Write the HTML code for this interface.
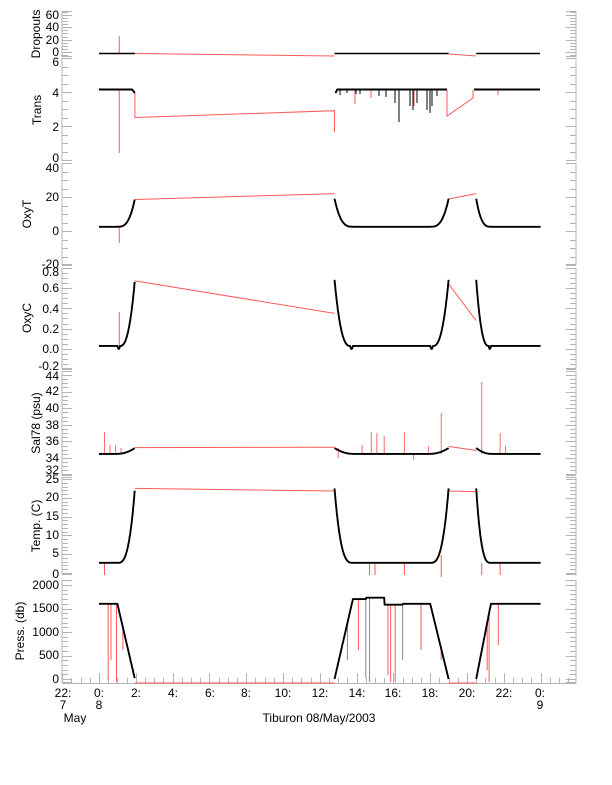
<!DOCTYPE html>
<html><head><meta charset="utf-8"><style>
html,body{margin:0;padding:0;background:#fff;}
svg{display:block;}
text{font-family:"Liberation Sans",sans-serif;font-size:12px;fill:#000;}
</style></head><body>
<svg id="s" width="612" height="785" viewBox="0 0 612 785" xmlns="http://www.w3.org/2000/svg">
<g id="ax" stroke="#b4b4b4" stroke-width="1" fill="none"></g>
<g id="red" stroke="#ff5a5a" stroke-width="1" fill="none"></g>
<g id="blk" stroke="#000" stroke-width="1.9" fill="none" stroke-linejoin="round"></g>
<g text-anchor="end">
<text x="59" y="19">60</text><text x="59" y="31">40</text><text x="59" y="44">20</text><text x="59" y="56">0</text>
<text x="59" y="66">6</text><text x="59" y="97">4</text><text x="59" y="131">2</text><text x="59" y="162">0</text>
<text x="59" y="172">40</text><text x="59" y="201">20</text><text x="59" y="235">0</text><text x="59" y="268">-20</text>
<text x="59" y="276">0.8</text><text x="59" y="292">0.6</text><text x="59" y="313">0.4</text><text x="59" y="333">0.2</text><text x="59" y="353">0.0</text><text x="59" y="370">-0.2</text>
<text x="59" y="380">44</text><text x="59" y="395">42</text><text x="59" y="412">40</text><text x="59" y="429">38</text><text x="59" y="445">36</text><text x="59" y="462">34</text><text x="59" y="474">32</text>
<text x="59" y="483">25</text><text x="59" y="501">20</text><text x="59" y="520">15</text><text x="59" y="539">10</text><text x="59" y="557">5</text><text x="59" y="578">0</text>
<text x="59" y="589">2000</text><text x="59" y="612">1500</text><text x="59" y="636">1000</text><text x="59" y="659">500</text><text x="59" y="683">0</text>
</g>
<g text-anchor="middle">
<text transform="translate(40,34) rotate(-90)">Dropouts</text>
<text transform="translate(41,110) rotate(-90)">Trans</text>
<text transform="translate(31,214) rotate(-90)">OxyT</text>
<text transform="translate(31,318) rotate(-90)">OxyC</text>
<text transform="translate(40,423) rotate(-90)">Sal78 (psu)</text>
<text transform="translate(40,526) rotate(-90)">Temp. (C)</text>
<text transform="translate(24,631) rotate(-90)">Press. (db)</text>
</g>
<g text-anchor="middle">
<text x="63" y="697">22:</text><text x="63" y="709">7</text>
<text x="99" y="697">0:</text><text x="99" y="709">8</text>
<text x="136" y="697">2:</text><text x="173" y="697">4:</text><text x="210" y="697">6:</text><text x="246" y="697">8:</text>
<text x="283" y="697">10:</text><text x="320" y="697">12:</text><text x="357" y="697">14:</text><text x="393" y="697">16:</text>
<text x="430" y="697">18:</text><text x="467" y="697">20:</text><text x="504" y="697">22:</text>
<text x="540" y="697">0:</text><text x="540" y="709">9</text>
<text x="75" y="722">May</text>
<text x="319" y="722">Tiburon 08/May/2003</text>
</g>
</svg>
<script>
var ax=document.getElementById('ax'),red=document.getElementById('red'),blk=document.getElementById('blk');
function P(g,d,extra){var p=document.createElementNS('http://www.w3.org/2000/svg','path');p.setAttribute('d',d);if(extra)for(var k in extra)p.setAttribute(k,extra[k]);g.appendChild(p);}
var L=62,R=576;
var panels=[
 {t:11,b:57,f:function(v){return 52-0.617*v},lo:-8,hi:66,mj:20,mn:5},
 {t:58,b:161,f:function(v){return 160-17*v},lo:0,hi:6,mj:2,mn:0.5},
 {t:163,b:265,f:function(v){return 231-1.7*v},lo:-20,hi:40,mj:20,mn:5},
 {t:268,b:369,f:function(v){return 349-101.7*v},lo:-0.2,hi:0.8,mj:0.2,mn:0.05},
 {t:371,b:475,f:function(v){return 458-8.3*(v-34)},lo:32,hi:44.4,mj:2,mn:0.5},
 {t:477,b:575,f:function(v){return 573-3.76*v},lo:0,hi:25.5,mj:5,mn:1},
 {t:580,b:683,f:function(v){return 679-0.047*v},lo:-85,hi:2100,mj:500,mn:100}];
var d='';
panels.forEach(function(p){
 d+='M'+L+' '+p.t+'V'+p.b+'M'+R+' '+p.t+'V'+p.b;
 var s=Math.ceil(p.lo/p.mn-1e-6);
 for(var i=s;i*p.mn<=p.hi+1e-6;i++){var v=i*p.mn,y=p.f(v);if(y<p.t-0.5||y>p.b+0.5)continue;
  var maj=Math.abs(v/p.mj-Math.round(v/p.mj))<1e-6;var len=maj?10:6;y=Math.round(y)+0.5;
  d+='M'+L+' '+y+'h'+len+'M'+R+' '+y+'h'+(-len);}
 d+='M'+L+' '+(p.t+0.5)+'h10M'+R+' '+(p.t+0.5)+'h-10M'+L+' '+(p.b-0.5)+'h10M'+R+' '+(p.b-0.5)+'h-10';
});
d+='M'+L+' 683.5H'+R;
for(var t=-2;t<=27.5;t+=0.5){var x=Math.round(99+t*18.4)+0.5;if(x<L||x>R)continue;var maj=Math.abs(t/2-Math.round(t/2))<1e-6;d+='M'+x+' 683V'+(683-(maj?10:5));}
P(ax,d);
function X(h){return 99+h*18.4;}
function seg(g,pts){return 'M'+pts.map(function(q){return q[0].toFixed(1)+' '+q[1].toFixed(1)}).join('L');}
function prof(h){
 if(h<1)return 0; if(h<1.95)return (h-1)/0.95; if(h<12.8)return 1;
 if(h<13.8)return 1-(h-12.8); if(h<18)return 0; if(h<19)return h-18; if(h<20.5)return 1;
 if(h<21.3)return 1-(h-20.5)/0.8; return 0;}
var blackRanges=[[0,1.95],[12.8,19],[20.5,24]];
function curve(f,panel){
 var s='';blackRanges.forEach(function(r){var pts=[];for(var h=r[0];h<=r[1]+1e-6;h+=0.02){pts.push([X(h),panel.f(f(h))]);}s+=seg(blk,pts);});
 P(blk,s);
}
var pp=panels[6];
function pres(h){var fr=prof(h);var deep=h<5?1600:(h<19?(h<15.5?1700+(h>14.5?30:0):(h<16.5?1580:1600)):1600);return deep*(1-fr);}
curve(pres,pp);
P(red,'M'+X(1.95)+' 683H'+X(12.8)+'M'+X(19)+' 683H'+X(20.5));
var spikes=[[0.5,680],[0.65,660],[0.95,682],[1.3,650],[13.3,640],[13.5,660],[14.1,650],[14.7,682],[15.7,675],[15.85,682],[16.1,682],[17.5,650],[18.6,660],[21.1,670],[21.2,682],[21.7,645]];
var sd='';spikes.forEach(function(s){var y0=pp.f(pres(s[0]));sd+='M'+X(s[0]).toFixed(1)+' '+y0.toFixed(1)+'V'+s[1];});P(red,sd);
P(ax,'M'+X(14.5)+' 598V678M'+X(16.5)+' 605V660',{stroke:'#888'});
var tp=panels[5];
function temp(h){var fr=prof(h);return 2.7+19.8*Math.pow(fr,3);}
curve(temp,tp);
P(red,'M'+X(1.95)+' '+tp.f(22.5)+'L'+X(12.8)+' '+tp.f(21.8)+'M'+X(19)+' '+tp.f(21.8)+'L'+X(20.5)+' '+tp.f(21.6));
P(red,'M'+X(0.3)+' 563V575M'+X(14.7)+' 563V575M'+X(15)+' 563V575M'+X(16.6)+' 563V575M'+X(18.6)+' 555V577M'+X(20.8)+' 563V575M'+X(21.8)+' 563V575');
var sp=panels[4];
function sal(h){var fr=prof(h);return 34.5+0.7*Math.pow(fr,2);}
curve(sal,sp);
P(red,'M'+X(1.95)+' '+sp.f(35.25)+'L'+X(12.8)+' '+sp.f(35.3)+'M'+X(19)+' '+sp.f(35.4)+'L'+X(20.5)+' '+sp.f(34.9));
P(red,'M'+X(0.3)+' 454V432M'+X(0.6)+' 454V445M'+X(0.9)+' 454V445M'+X(1.2)+' 454V448M'+X(14.3)+' 454V445M'+X(14.8)+' 454V432M'+X(15.1)+' 454V433M'+X(15.5)+' 454V436M'+X(16.6)+' 454V432M'+X(17.1)+' 454V460M'+X(17.9)+' 454V446M'+X(18.6)+' 454V413M'+X(20.8)+' 454V382M'+X(21.8)+' 454V433M'+X(22.1)+' 454V446M'+X(13)+' 448V458',{opacity:0.9});
var cp=panels[3];
function oxc(h){var fr=prof(h);if(fr<0.15)return 0.03-0.03*Math.sin(Math.PI*fr/0.15);return 0.03+0.65*Math.pow((fr-0.15)/0.85,2.5);}
curve(oxc,cp);
P(red,'M'+X(1.95)+' '+cp.f(0.67)+'L'+X(12.8)+' '+cp.f(0.35)+'M'+X(19)+' '+cp.f(0.64)+'L'+X(20.5)+' '+cp.f(0.28));
P(red,'M'+X(1.1)+' 346V312');
var op=panels[2];
function oxt(h){var fr=prof(h);return 2.5+16.5*Math.pow(fr,3);}
curve(oxt,op);
P(red,'M'+X(1.95)+' '+op.f(18.5)+'L'+X(12.8)+' '+op.f(22)+'M'+X(19)+' '+op.f(18.8)+'L'+X(20.5)+' '+op.f(22));
P(red,'M'+X(1.1)+' 227V243');
P(blk,'M'+X(0)+' 89.5H'+X(1.8)+'L'+X(1.95)+' 93M'+X(12.85)+' 93L'+X(12.95)+' 89.5H447M474 89.5H540');
P(red,'M'+X(1.95)+' 93V117.5L'+X(12.8)+' 110.7V132M447 90V116L473 98V90M'+X(1.1)+' 90V153');
var td='';[[340,95],[347,93],[356,94],[379,96],[386,97],[399,122],[410,106],[413,110],[417,103],[427,110],[430,113],[432,106],[437,96],[360,94],[395,103]].forEach(function(s){td+='M'+s[0]+' 90V'+s[1];});
P(blk,td,{'stroke-width':1});
P(red,'M355 90V104M414 90V106M498 90V95M371 90V98',{'stroke-width':1});
P(blk,'M'+X(0)+' 53.5H'+X(1.95)+'M'+X(12.8)+' 53.5H'+X(19)+'M'+X(20.5)+' 53.5H540',{'stroke-width':1.6});
P(red,'M'+X(1.95)+' 53.5L'+X(12.8)+' 56M'+X(19)+' 54L'+X(20.5)+' 56M'+X(1.1)+' 53V36');
</script>
</body></html>
